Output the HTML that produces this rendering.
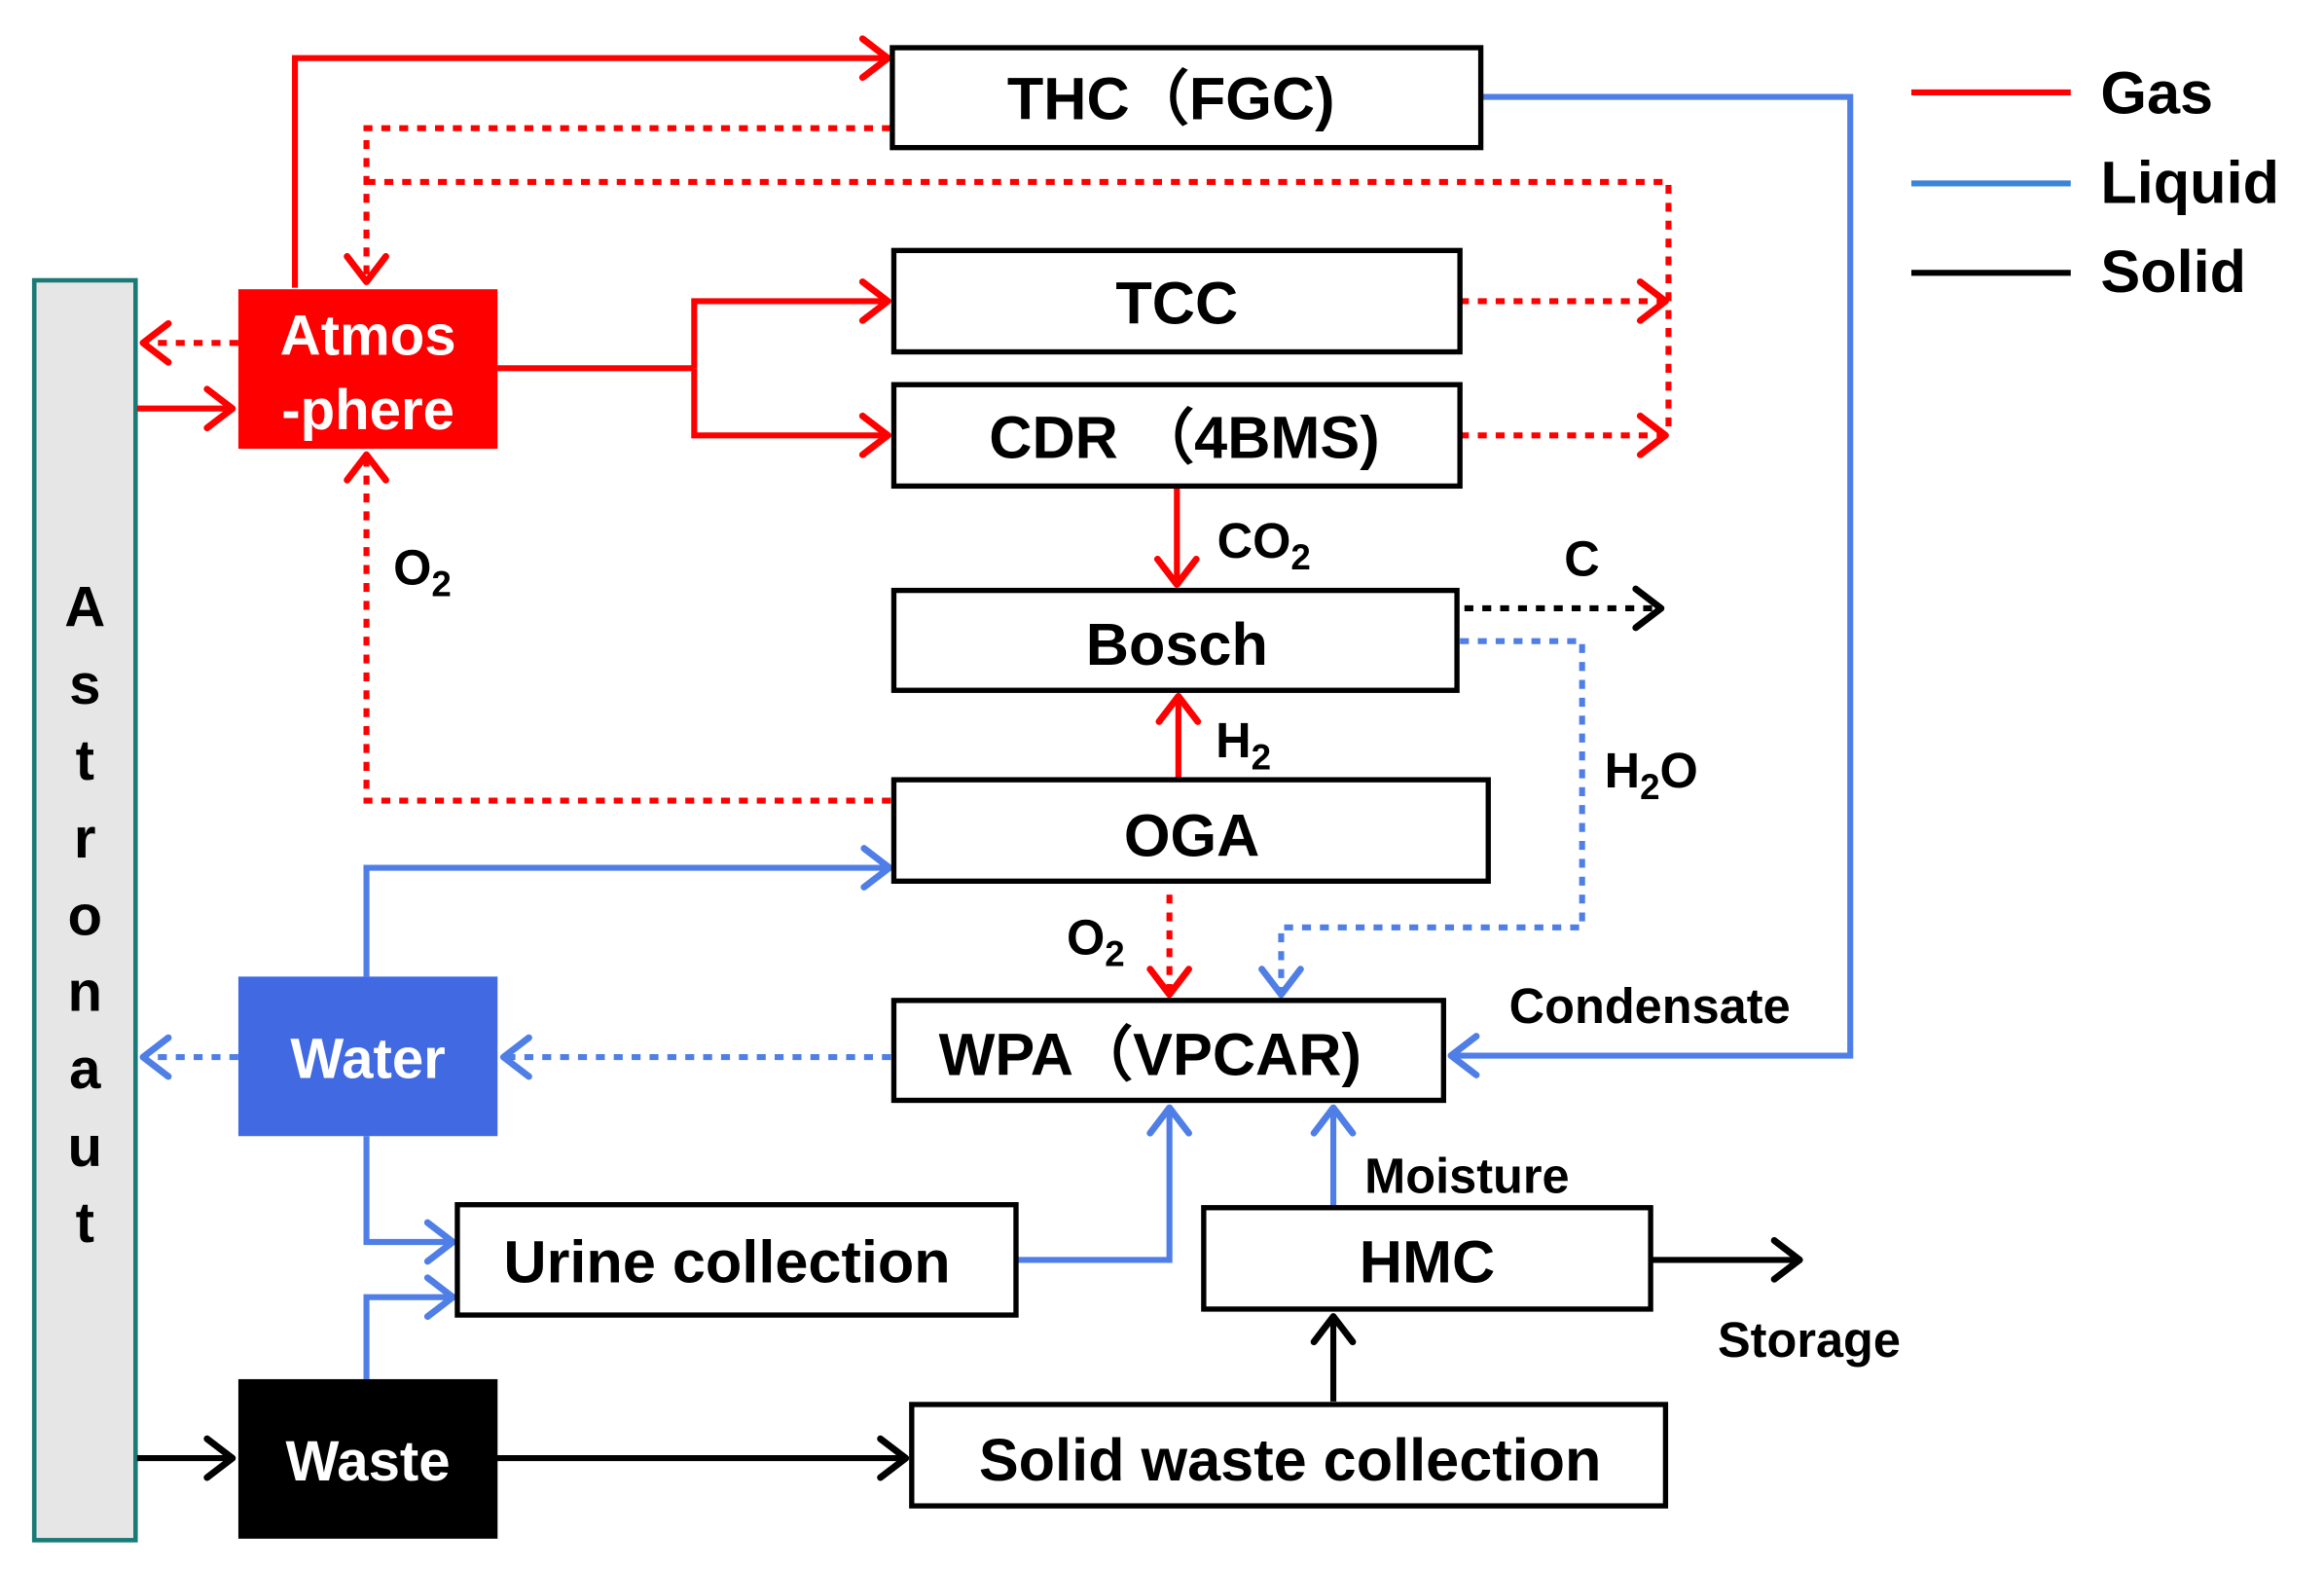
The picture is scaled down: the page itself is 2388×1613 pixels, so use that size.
<!DOCTYPE html>
<html><head><meta charset="utf-8"><style>
html,body{margin:0;padding:0;background:#fff;}
svg{display:block;}
text{font-family:"Liberation Sans",Arial,sans-serif;font-weight:bold;}
</style></head><body>
<svg width="2388" height="1613" viewBox="0 0 1560 1053" preserveAspectRatio="none" xmlns="http://www.w3.org/2000/svg">
<defs>
<marker id="ar" markerUnits="userSpaceOnUse" markerWidth="40" markerHeight="40" refX="20" refY="16" orient="auto" viewBox="0 0 40 32"><path d="M3,3 L20,16 L3,29" fill="none" stroke="#f00" stroke-width="4.5" stroke-linecap="round" stroke-linejoin="round"/></marker>
<marker id="ab" markerUnits="userSpaceOnUse" markerWidth="40" markerHeight="40" refX="20" refY="16" orient="auto" viewBox="0 0 40 32"><path d="M3,3 L20,16 L3,29" fill="none" stroke="#4f7fe6" stroke-width="4.5" stroke-linecap="round" stroke-linejoin="round"/></marker>
<marker id="ak" markerUnits="userSpaceOnUse" markerWidth="40" markerHeight="40" refX="20" refY="16" orient="auto" viewBox="0 0 40 32"><path d="M3,3 L20,16 L3,29" fill="none" stroke="#000" stroke-width="4.5" stroke-linecap="round" stroke-linejoin="round"/></marker>
</defs>

<!-- Astronaut bar -->
<rect x="23" y="188" width="68" height="845" fill="#e6e6e6" stroke="#1a7a78" stroke-width="3"/>
<g font-size="38" text-anchor="middle" fill="#000">
<text x="57" y="420">A</text><text x="57" y="472">s</text><text x="57" y="523">t</text><text x="57" y="575">r</text><text x="57" y="627">o</text><text x="57" y="678">n</text><text x="57" y="730">a</text><text x="57" y="782">u</text><text x="57" y="833">t</text>
</g>

<!-- Red solid lines -->
<g fill="none" stroke="#f00" stroke-width="4">
<polyline points="198,193 198,39 596,39" marker-end="url(#ar)"/>
<line x1="333" y1="247" x2="466" y2="247"/>
<polyline points="466,247 466,202 596,202" marker-end="url(#ar)"/>
<polyline points="466,247 466,292 596,292" marker-end="url(#ar)"/>
<line x1="92" y1="274" x2="156" y2="274" marker-end="url(#ar)"/>
<line x1="790" y1="326" x2="790" y2="392" marker-end="url(#ar)"/>
<line x1="791" y1="522" x2="791" y2="467" marker-end="url(#ar)"/>
</g>
<!-- Red dotted -->
<g fill="none" stroke="#f00" stroke-width="4" stroke-dasharray="6 6">
<polyline points="598,86 246,86 246,189" marker-end="url(#ar)"/>
<polyline points="246,122 1120,122 1120,292"/>
<line x1="980" y1="202" x2="1118" y2="202" marker-end="url(#ar)"/>
<line x1="980" y1="292" x2="1118" y2="292" marker-end="url(#ar)"/>
<line x1="160" y1="230" x2="96" y2="230" marker-end="url(#ar)"/>
<polyline points="598,537 246,537 246,305" marker-end="url(#ar)"/>
<line x1="785" y1="600" x2="785" y2="667" marker-end="url(#ar)"/>
</g>
<!-- Black -->
<g fill="none" stroke="#000" stroke-width="4">
<line x1="983" y1="408" x2="1115" y2="408" stroke-dasharray="6 6" marker-end="url(#ak)"/>
<line x1="92" y1="978" x2="156" y2="978" marker-end="url(#ak)"/>
<line x1="333" y1="978" x2="608" y2="978" marker-end="url(#ak)"/>
<line x1="895" y1="940" x2="895" y2="883" marker-end="url(#ak)"/>
<line x1="1104" y1="845" x2="1208" y2="845" marker-end="url(#ak)"/>
</g>
<!-- Blue solid -->
<g fill="none" stroke="#4f7fe6" stroke-width="4">
<polyline points="993,65 1242,65 1242,708 974,708" marker-end="url(#ab)"/>
<polyline points="246,655 246,582 597,582" marker-end="url(#ab)"/>
<polyline points="246,762 246,833 304,833" marker-end="url(#ab)"/>
<polyline points="246,925 246,870 304,870" marker-end="url(#ab)"/>
<polyline points="682,845 785,845 785,743" marker-end="url(#ab)"/>
<line x1="895" y1="809" x2="895" y2="743" marker-end="url(#ab)"/>
</g>
<!-- Blue dotted -->
<g fill="none" stroke="#4f7fe6" stroke-width="4" stroke-dasharray="6 6">
<polyline points="980,430 1062,430 1062,622 860,622 860,667" marker-end="url(#ab)"/>
<line x1="598" y1="709" x2="338" y2="709" marker-end="url(#ab)"/>
<line x1="160" y1="709" x2="96" y2="709" marker-end="url(#ab)"/>
</g>

<!-- Colored boxes -->
<rect x="160" y="194" width="174" height="107" fill="#f00"/>
<text x="247" y="238" font-size="38" fill="#fff" text-anchor="middle">Atmos</text>
<text x="247" y="288" font-size="38" fill="#fff" text-anchor="middle">-phere</text>
<rect x="160" y="655" width="174" height="107" fill="#4169e1"/>
<text x="247" y="723" font-size="38" fill="#fff" text-anchor="middle">Water</text>
<rect x="160" y="925" width="174" height="107" fill="#000"/>
<text x="247" y="993" font-size="38" fill="#fff" text-anchor="middle">Waste</text>

<!-- White boxes -->
<g fill="#fff" stroke="#000" stroke-width="3.5">
<rect x="599" y="32" width="395" height="67"/>
<rect x="600" y="168" width="380" height="68"/>
<rect x="600" y="258" width="380" height="68"/>
<rect x="600" y="396" width="378" height="67"/>
<rect x="600" y="523" width="399" height="68"/>
<rect x="600" y="671" width="369" height="67"/>
<rect x="307" y="808" width="375" height="74"/>
<rect x="808" y="810" width="300" height="68"/>
<rect x="612" y="942" width="506" height="68"/>
</g>
<g font-size="40" fill="#000" text-anchor="middle">
<text x="786" y="80">THC（FGC)</text>
<text x="790" y="217">TCC</text>
<text x="795" y="307">CDR （4BMS)</text>
<text x="790" y="446">Bosch</text>
<text x="800" y="574">OGA</text>
<text x="772" y="721">WPA（VPCAR)</text>
<text x="488" y="860">Urine collection</text>
<text x="958" y="860">HMC</text>
<text x="866" y="993">Solid waste collection</text>
</g>

<!-- Labels -->
<g font-size="33" fill="#000">
<text x="264" y="392">O<tspan font-size="24" dy="8">2</tspan></text>
<text x="817" y="374">CO<tspan font-size="24" dy="8">2</tspan></text>
<text x="1050" y="386">C</text>
<text x="816" y="508">H<tspan font-size="24" dy="8">2</tspan></text>
<text x="1077" y="528">H<tspan font-size="24" dy="8">2</tspan><tspan dy="-8">O</tspan></text>
<text x="716" y="640">O<tspan font-size="24" dy="8">2</tspan></text>
<text x="1013" y="686">Condensate</text>
<text x="916" y="800">Moisture</text>
<text x="1153" y="910">Storage</text>
</g>

<!-- Legend -->
<g stroke-width="4">
<line x1="1283" y1="62" x2="1390" y2="62" stroke="#f00"/>
<line x1="1283" y1="123" x2="1390" y2="123" stroke="#3a85d8"/>
<line x1="1283" y1="183" x2="1390" y2="183" stroke="#000"/>
</g>
<g font-size="40" fill="#000">
<text x="1410" y="76">Gas</text>
<text x="1410" y="136">Liquid</text>
<text x="1410" y="196">Solid</text>
</g>
</svg>
</body></html>
